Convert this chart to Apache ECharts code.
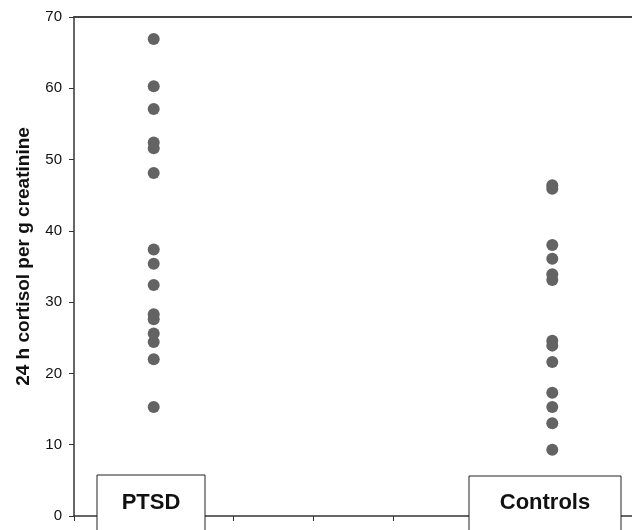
<!DOCTYPE html>
<html>
<head>
<meta charset="utf-8">
<script src="https://cdn.jsdelivr.net/npm/echarts@6/dist/echarts.min.js"></script>
<style>
html,body{margin:0;padding:0;background:#fff;}
#main{width:632px;height:530px;}
</style>
</head>
<body>
<div id="main"></div>
<script>
// Data
var groups = ['PTSD', 'Controls'];
var groupX = [1, 6];
var ptsdValues = [66.9, 60.3, 57.1, 52.4, 51.6, 48.1, 37.4, 35.4, 32.4, 28.3, 27.6, 25.6, 24.4, 22.0, 15.3];
var controlValues = [46.4, 45.9, 38.0, 36.1, 33.9, 33.1, 24.6, 23.9, 21.6, 17.3, 15.3, 13.0, 9.3];
var yTicks = [0, 10, 20, 30, 40, 50, 60, 70];
var yAxisTitle = '24 h cortisol per g creatinine';

var chart = echarts.init(document.getElementById('main'), null, {renderer: 'canvas'});

function toPoints(x, vals) { return vals.map(function (v) { return [x, v]; }); }

var option = {
  backgroundColor: '#fff',
  animation: false,
  grid: {left: 74, top: 17, width: 563, height: 499},
  xAxis: [{
    type: 'value', min: 0, max: 7, interval: 1,
    axisLine: {show: true, lineStyle: {color: '#333', width: 1.5}},
    axisTick: {show: true, inside: false, length: 5, lineStyle: {color: '#333', width: 1}},
    axisLabel: {show: false},
    splitLine: {show: false}
  }, {
    type: 'value', min: 0, max: 7, position: 'top',
    axisLine: {show: true, lineStyle: {color: '#444', width: 2}},
    axisTick: {show: false}, axisLabel: {show: false}, splitLine: {show: false}
  }],
  yAxis: {
    type: 'value', min: yTicks[0], max: yTicks[yTicks.length - 1], interval: 10,
    name: yAxisTitle,
    nameLocation: 'middle',
    nameGap: 41,
    nameRotate: 90,
    nameTextStyle: {fontFamily: 'Liberation Sans, Arial, sans-serif', fontWeight: 'bold', fontSize: 19, color: '#111', padding: [0, 0, 0, 20]},
    axisLine: {show: true, lineStyle: {color: '#333', width: 1.5}},
    axisTick: {show: true, length: 5, lineStyle: {color: '#333', width: 1}},
    axisLabel: {fontFamily: 'Liberation Sans, Arial, sans-serif', fontSize: 15, color: '#111', margin: 12},
    splitLine: {show: false}
  },
  series: [{
    name: groups[0], type: 'scatter', symbol: 'circle', symbolSize: 12,
    itemStyle: {color: '#636363', opacity: 1},
    data: toPoints(groupX[0], ptsdValues)
  }, {
    name: groups[1], type: 'scatter', symbol: 'circle', symbolSize: 12,
    itemStyle: {color: '#636363', opacity: 1},
    data: toPoints(groupX[1], controlValues)
  }],
  graphic: [{
    type: 'group', z: 100,
    children: [
      {type: 'rect', shape: {x: 97, y: 475, width: 108, height: 70}, style: {fill: '#fff', stroke: '#222', lineWidth: 1}, z: 100},
      {type: 'text', x: 151, y: 503, style: {text: groups[0], fontFamily: 'Liberation Sans, Arial, sans-serif', fontWeight: 'bold', fontSize: 22, fill: '#111', align: 'center', verticalAlign: 'middle'}, z: 101},
      {type: 'rect', shape: {x: 469, y: 476, width: 152, height: 70}, style: {fill: '#fff', stroke: '#222', lineWidth: 1}, z: 100},
      {type: 'text', x: 545, y: 503, style: {text: groups[1], fontFamily: 'Liberation Sans, Arial, sans-serif', fontWeight: 'bold', fontSize: 22, fill: '#111', align: 'center', verticalAlign: 'middle'}, z: 101}
    ]
  }]
};
chart.setOption(option);
</script>
</body>
</html>
